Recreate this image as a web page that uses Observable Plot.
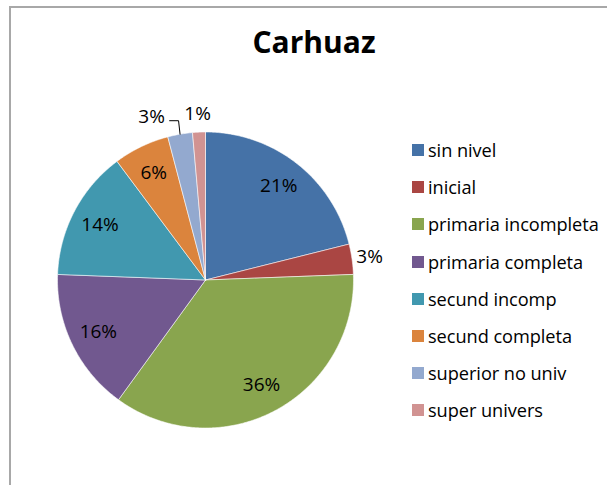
<!DOCTYPE html>
<html>
<head>
<meta charset="utf-8">
<script src="https://cdn.jsdelivr.net/npm/d3@7"></script>
<script src="https://cdn.jsdelivr.net/npm/@observablehq/plot@0.6"></script>
<style>
  html, body { margin: 0; padding: 0; background: #fff; }
  #frame { position: relative; width: 607px; height: 485px; overflow: hidden; background: #fff; font-family: "Open Sans", sans-serif; }
  #border { position: absolute; left: 9px; top: 6px; width: 700px; height: 600px; border-top: 2px solid #a8a8a8; border-left: 2px solid #a8a8a8; }
  #title { position: absolute; left: 0; width: 628px; top: 22px; text-align: center; font-weight: bold; font-size: 30px; color: #000; line-height: 40px; }
  #pie { position: absolute; left: 0; top: 70px; }
  #legend { position: absolute; left: 412px; top: 131.4px; display: flex; flex-direction: column; }
  .row { height: 37.2px; display: flex; align-items: center; font-size: 18.2px; color: #000; white-space: nowrap; letter-spacing: -0.05px; }
  .sw { width: 12px; height: 12px; margin-right: 4px; flex: none; }
</style>
</head>
<body>
<div id="frame">
  <div id="border"></div>
  <div id="title"></div>
  <div id="pie"></div>
  <div id="legend"></div>
</div>
<script>
const title = "Carhuaz";
const categories = ["sin nivel", "inicial", "primaria incompleta", "primaria completa", "secund incomp", "secund completa", "superior no univ", "super univers"];
const values = [21.1, 3.3, 35.6, 15.6, 14.2, 6.1, 2.7, 1.4];
const colors = ["#4572A7", "#AA4643", "#89A54E", "#71588F", "#4198AF", "#DB843D", "#93A9CF", "#D19392"];

document.getElementById("title").textContent = title;

const W = 400, H = 410, R = 148, CX = 205, CY = 209.5;
const total = d3.sum(values);
const arcs = d3.pie().sort(null).value(d => d)(values);

// slice outlines as polygons (unit circle coordinates, angle clockwise from top)
const pts = [];
arcs.forEach((a, i) => {
  const cat = categories[i];
  pts.push({cat, x: 0, y: 0});
  const n = Math.max(2, Math.ceil((a.endAngle - a.startAngle) / 0.01));
  for (let k = 0; k <= n; k++) {
    const t = a.startAngle + (a.endAngle - a.startAngle) * k / n;
    pts.push({cat, x: Math.sin(t), y: Math.cos(t)});
  }
  pts.push({cat, x: 0, y: 0});
});

// labels
const unit = 1 / R; // one pixel in data units
const labels = arcs.map((a, i) => {
  const m = (a.startAngle + a.endAngle) / 2;
  const pct = Math.round(values[i] / total * 100);
  const inside = pct >= 4;
  const r = inside ? 0.805 : 1.12;
  return {cat: categories[i], text: pct + "%", inside, moved: false, m, x: Math.sin(m) * r, y: Math.cos(m) * r, ax: Math.sin(m), ay: Math.cos(m)};
});
// simple collision avoidance between outside labels
const outs = labels.filter(d => !d.inside).sort((a, b) => a.x - b.x);
const minGap = 46 * unit;
for (let k = 1; k < outs.length; k++) {
  const p = outs[k - 1], q = outs[k];
  if (Math.abs(p.y - q.y) < 20 * unit && q.x - p.x < minGap) {
    const mid = (p.x + q.x) / 2 - 13 * unit;
    p.x = mid - minGap / 2;
    q.x = mid + minGap / 2;
    p.moved = q.moved = true;
  }
}
// leader lines for labels pushed away from their slice
const halfW = 13 * unit;
const leaders = [];
labels.filter(d => d.moved).forEach(d => {
  if (d.ax > d.x + halfW || d.ax < d.x - halfW) {
    const side = d.ax > d.x ? 1 : -1;
    const yy = d.y - 4 * unit;
    leaders.push({cat: d.cat, x: d.x + side * (halfW + 5 * unit), y: yy});
    leaders.push({cat: d.cat, x: d.ax - side * 1.5 * unit, y: yy});
    leaders.push({cat: d.cat, x: d.ax, y: d.ay * 1.0});
  }
});

const chart = Plot.plot({
  width: W, height: H,
  margin: 0,
  x: {domain: [-1, 1], range: [CX - R, CX + R], axis: null},
  y: {domain: [-1, 1], range: [CY + R, CY - R], axis: null},
  color: {domain: categories, range: colors},
  style: {fontFamily: "'Open Sans', sans-serif", background: "transparent"},
  marks: [
    Plot.line(pts, {x: "x", y: "y", z: "cat", fill: "cat", stroke: "#ffffff", strokeWidth: 0.8, strokeOpacity: 0.7, curve: "linear"}),
    Plot.line(leaders, {x: "x", y: "y", z: "cat", stroke: "#000", strokeWidth: 1, curve: "linear"}),
    Plot.text(labels, {x: "x", y: "y", text: "text", fill: "#000", fontSize: 19, textAnchor: "middle", lineAnchor: "middle"})
  ]
});
document.getElementById("pie").appendChild(chart);

const color = chart.scale("color");
const legend = document.getElementById("legend");
categories.forEach(c => {
  const row = document.createElement("div");
  row.className = "row";
  const sw = document.createElement("span");
  sw.className = "sw";
  sw.style.background = color.apply(c);
  const tx = document.createElement("span");
  tx.textContent = c;
  row.appendChild(sw);
  row.appendChild(tx);
  legend.appendChild(row);
});
</script>
</body>
</html>
